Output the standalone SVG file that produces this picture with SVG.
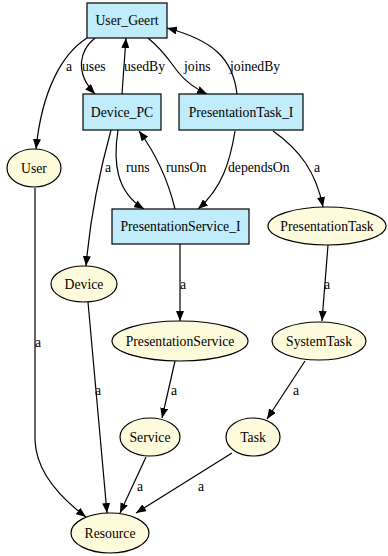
<svg xmlns="http://www.w3.org/2000/svg" width="388" height="556" viewBox="0 0 388 556" font-family="'Liberation Serif', 'DejaVu Serif', serif">
  <style>
    .box { fill: #c1ecfb; stroke: #000; stroke-width: 1.2; }
    .cls { fill: #fefbdc; stroke: #000; stroke-width: 1.2; }
    text { font-family: "Liberation Serif", "DejaVu Serif", serif; font-size: 13.7px; fill: #000; }
    .nl { text-anchor: middle; }
    .edge { fill: none; stroke: #000; stroke-width: 1.2; }
  </style>
  <defs>
    <marker id="arrow" viewBox="0 0 10 8" refX="10" refY="4" markerWidth="10" markerHeight="8" markerUnits="userSpaceOnUse" orient="auto">
      <path d="M0,0 L10,4 L0,8 Z" fill="#000"/>
    </marker>
  </defs>

  <g id="connectors">
    <!-- User_Geert -> User -->
    <path class="edge" marker-end="url(#arrow)" d="M87,38 C62,54 42,90 36,149"/>
    <text x="66" y="71">a</text>
    <!-- User_Geert -> Device_PC -->
    <path class="edge" marker-end="url(#arrow)" d="M95,38 C80,50 74,72 95,94"/>
    <text x="82" y="71">uses</text>
    <!-- Device_PC -> User_Geert -->
    <path class="edge" marker-end="url(#arrow)" d="M122,94 L126,38"/>
    <text x="124" y="71">usedBy</text>
    <!-- User_Geert -> PresentationTask_I -->
    <path class="edge" marker-end="url(#arrow)" d="M148,38 C165,52 170,62 178,72 C186,82 194,88 207,94"/>
    <text x="184" y="71">joins</text>
    <!-- PresentationTask_I -> User_Geert -->
    <path class="edge" marker-end="url(#arrow)" d="M237,94 C233,58 212,40 167,28"/>
    <text x="230" y="71">joinedBy</text>

    <!-- Device_PC -> Device -->
    <path class="edge" marker-end="url(#arrow)" d="M111,130 C100,170 90,220 86,266"/>
    <text x="105" y="172">a</text>
    <!-- Device_PC -> PresentationService_I -->
    <path class="edge" marker-end="url(#arrow)" d="M118,130 C113,162 116,192 144,209"/>
    <text x="126" y="172">runs</text>
    <!-- PresentationService_I -> Device_PC -->
    <path class="edge" marker-end="url(#arrow)" d="M175,209 C168,180 156,154 139,131"/>
    <text x="166" y="172">runsOn</text>
    <!-- PresentationTask_I -> PresentationService_I -->
    <path class="edge" marker-end="url(#arrow)" d="M235,131 C230,162 222,188 198,209"/>
    <text x="228" y="172">dependsOn</text>
    <!-- PresentationTask_I -> PresentationTask -->
    <path class="edge" marker-end="url(#arrow)" d="M273,131 C300,150 316,172 323,207"/>
    <text x="314" y="172">a</text>

    <!-- PresentationService_I -> PresentationService -->
    <path class="edge" marker-end="url(#arrow)" d="M180,244 L180,321"/>
    <text x="180" y="289">a</text>
    <!-- PresentationTask -> SystemTask -->
    <path class="edge" marker-end="url(#arrow)" d="M328,245 L322,321"/>
    <text x="324" y="289">a</text>
    <!-- PresentationService -> Service -->
    <path class="edge" marker-end="url(#arrow)" d="M175,361 L162,418"/>
    <text x="171" y="395">a</text>
    <!-- SystemTask -> Task -->
    <path class="edge" marker-end="url(#arrow)" d="M305,361 L267,419"/>
    <text x="293" y="395">a</text>

    <!-- User -> Resource -->
    <path class="edge" marker-end="url(#arrow)" d="M35,188 L35,440 C36,470 58,496 86,517"/>
    <text x="35" y="347">a</text>
    <!-- Device -> Resource -->
    <path class="edge" marker-end="url(#arrow)" d="M88,302 L107,513"/>
    <text x="95" y="395">a</text>
    <!-- Service -> Resource -->
    <path class="edge" marker-end="url(#arrow)" d="M146,457 L120,513"/>
    <text x="137" y="491">a</text>
    <!-- Task -> Resource -->
    <path class="edge" marker-end="url(#arrow)" d="M232,453 L136,513"/>
    <text x="198" y="491">a</text>
  </g>

  <g id="User_Geert">
    <rect class="box" x="87" y="3" width="80" height="35"/>
    <text class="nl" x="127" y="25">User_Geert</text>
  </g>
  <g id="Device_PC">
    <rect class="box" x="83" y="94" width="78" height="36"/>
    <text class="nl" x="122" y="116.5">Device_PC</text>
  </g>
  <g id="PresentationTask_I">
    <rect class="box" x="179" y="94" width="124" height="36"/>
    <text class="nl" x="241" y="116.5">PresentationTask_I</text>
  </g>
  <g id="PresentationService_I">
    <rect class="box" x="112" y="209" width="137" height="35"/>
    <text class="nl" x="180.5" y="231">PresentationService_I</text>
  </g>

  <g id="User">
    <ellipse class="cls" cx="34" cy="168" rx="27" ry="19"/>
    <text class="nl" x="34" y="172.5">User</text>
  </g>
  <g id="Device">
    <ellipse class="cls" cx="84" cy="284" rx="33" ry="18"/>
    <text class="nl" x="84" y="288.5">Device</text>
  </g>
  <g id="PresentationTask">
    <ellipse class="cls" cx="327" cy="226" rx="59" ry="19"/>
    <text class="nl" x="327" y="230.5">PresentationTask</text>
  </g>
  <g id="PresentationService">
    <ellipse class="cls" cx="180" cy="341" rx="68" ry="20"/>
    <text class="nl" x="180" y="345.5">PresentationService</text>
  </g>
  <g id="SystemTask">
    <ellipse class="cls" cx="319" cy="341" rx="47" ry="19"/>
    <text class="nl" x="319" y="345.5">SystemTask</text>
  </g>
  <g id="Service">
    <ellipse class="cls" cx="150" cy="437" rx="30" ry="19"/>
    <text class="nl" x="150" y="441.5">Service</text>
  </g>
  <g id="Task">
    <ellipse class="cls" cx="253" cy="437" rx="27" ry="19"/>
    <text class="nl" x="253" y="441.5">Task</text>
  </g>
  <g id="Resource">
    <ellipse class="cls" cx="110" cy="533" rx="39" ry="20"/>
    <text class="nl" x="110" y="537.5">Resource</text>
  </g>
</svg>
